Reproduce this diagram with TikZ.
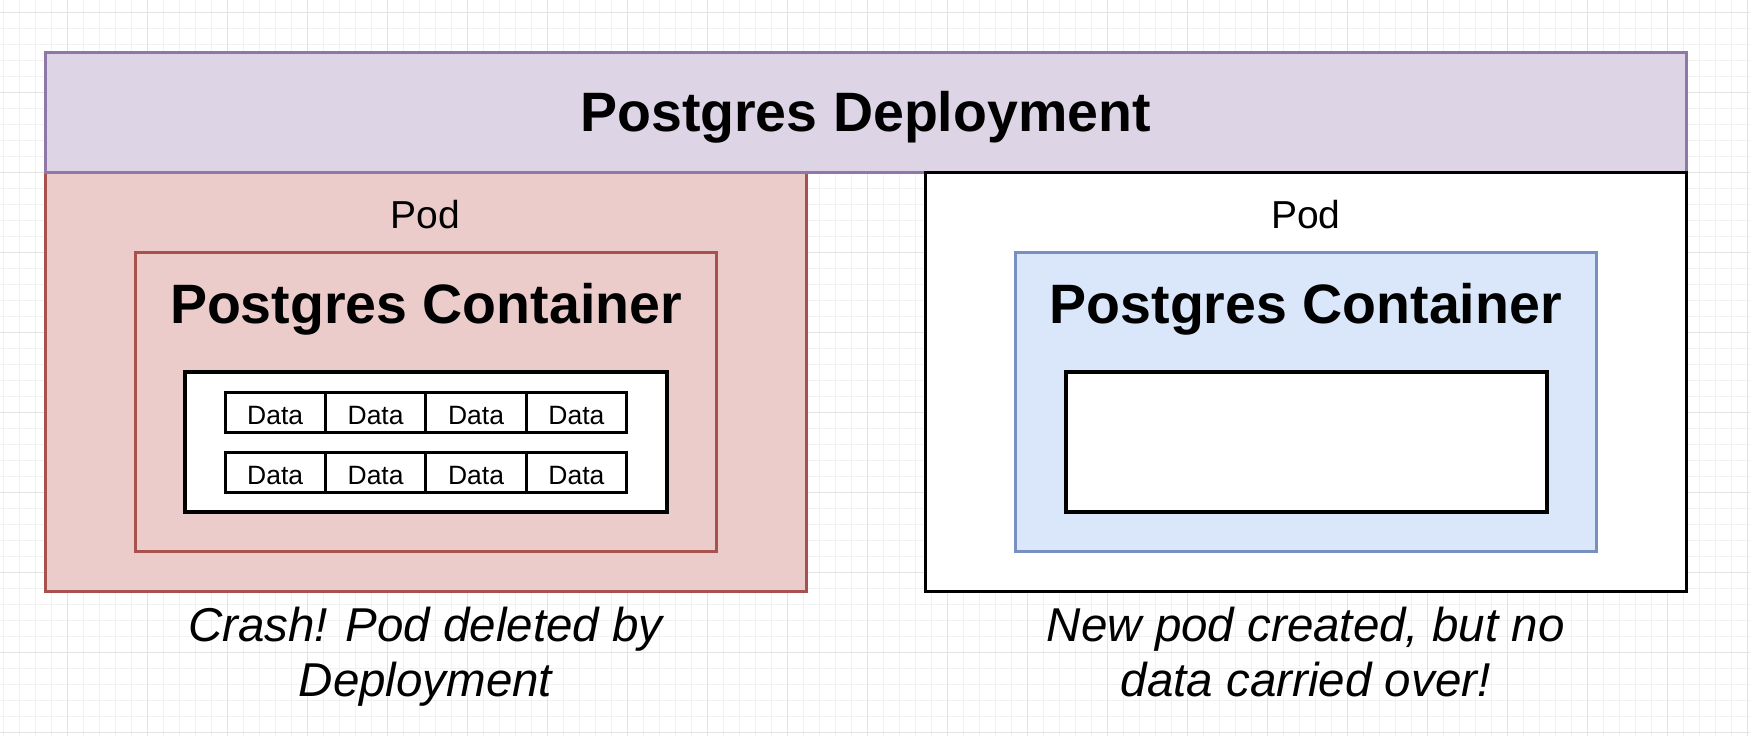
\documentclass[tikz,border=0pt]{standalone}
\usepackage{fontspec}
\setmainfont{Liberation Sans}
\usetikzlibrary{positioning}

\definecolor{deployfill}{HTML}{DDD4E6}
\definecolor{deploydraw}{HTML}{8F77A8}
\definecolor{crashfill}{HTML}{ECCBCB}
\definecolor{crashdraw}{HTML}{A8524F}
\definecolor{newfill}{HTML}{DAE6F9}
\definecolor{newdraw}{HTML}{7790C0}
\definecolor{minorline}{HTML}{F2F2F2}
\definecolor{majorline}{HTML}{E3E3E3}

\begin{document}
\begin{tikzpicture}[x=1pt,y=-1pt,
	box/.style={rectangle, inner sep=0pt, outer sep=0pt, line width=3pt},
	store/.style={box, draw=black, fill=white, line width=4pt, minimum width=482pt, minimum height=140pt},
	cell/.style={box, draw=black, fill=white, minimum width=100.4pt, minimum height=40pt, text height=24pt, text depth=0pt, font=\fontsize{26.5}{30}\selectfont},
	podlabel/.style={anchor=base, inner sep=0pt, font=\fontsize{39}{44}\selectfont},
	title/.style={anchor=base, inner sep=0pt, font=\fontsize{55.5}{60}\selectfont\bfseries},
	caption/.style={anchor=base, inner sep=0pt, align=center, font=\fontsize{47.5}{54.5}\selectfont\itshape}]

	\useasboundingbox (0,0) rectangle (1750,736);
	\fill[white] (0,0) rectangle (1750,736);
	\foreach \gx in {3,19,...,1747} \draw[minorline, line width=1pt] (\gx,0) -- (\gx,736);
	\foreach \gy in {12,28,...,732} \draw[minorline, line width=1pt] (0,\gy) -- (1750,\gy);
	\foreach \gx in {67,147,...,1747} \draw[majorline, line width=1pt] (\gx,0) -- (\gx,736);
	\foreach \gy in {12,92,...,732} \draw[majorline, line width=1pt] (0,\gy) -- (1750,\gy);

	\node[box, draw=crashdraw, fill=crashfill, minimum width=761pt, minimum height=419pt] (podL) at (425.5,381.5) {};
	\node[box, draw=deploydraw, fill=deployfill, minimum width=1641pt, minimum height=120pt] (deploy) at (865.5,112) {};
	\node[box, draw=black, fill=white, minimum width=760.5pt, minimum height=419pt] (podR) at (1305.75,381.5) {};

	\node[title] (deployText) at (865.5,131.7) {Postgres Deployment};

	\node[podlabel] (podLText) at (425.5,228) {Pod};
	\node[podlabel] (podRText) at (1305.75,228) {Pod};

	\node[box, draw=crashdraw, fill=crashfill, minimum width=581pt, minimum height=299pt] (contL) at (426,401.5) {};
	\node[box, draw=newdraw, fill=newfill, minimum width=581.5pt, minimum height=299pt] (contR) at (1305.75,401.5) {};

	\node[title] (contLText) at (426,323) {Postgres Container};
	\node[title] (contRText) at (1305.75,323) {Postgres Container};

	\node[store] (storeL) at (426,442) {};
	\node[store, minimum width=481pt] (storeR) at (1306.5,442) {};

	\foreach \row/\ry in {1/412,2/472}
		\foreach \col/\cx in {1/275.2,2/375.6,3/476,4/576.4}
			\node[cell] (data-\row-\col) at (\cx,\ry) {Data};

	\node[caption] (crashText) at (425.5,696) {Crash! Pod deleted by\\Deployment};
	\node[caption] (newText) at (1305.75,696) {New pod created, but no\\data carried over!};

\end{tikzpicture}
\end{document}
